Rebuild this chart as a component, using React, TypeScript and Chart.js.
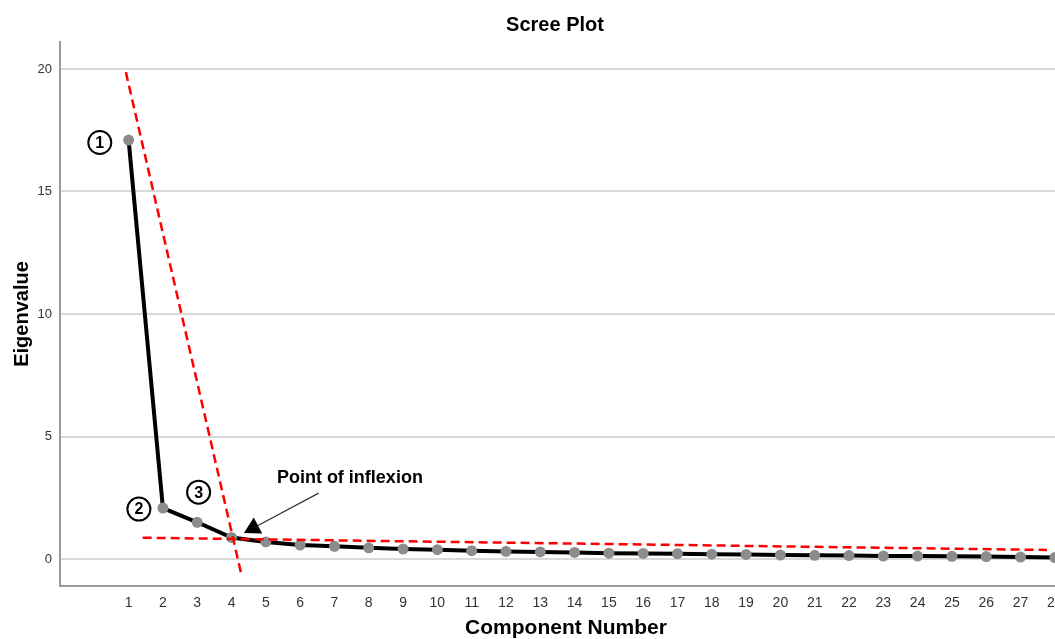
import React, { useEffect, useRef } from "react";
import { Chart, registerables } from "chart.js";

Chart.register(...registerables);

const components = [1, 2, 3, 4, 5, 6, 7, 8, 9, 10, 11, 12, 13, 14, 15, 16, 17, 18, 19, 20, 21, 22, 23, 24, 25, 26, 27, 28];
const eigenvalues = [17.1, 2.08, 1.5, 0.88, 0.7, 0.57, 0.52, 0.46, 0.41, 0.38, 0.34, 0.31, 0.29, 0.27, 0.24, 0.23, 0.22, 0.2, 0.19, 0.16, 0.15, 0.14, 0.12, 0.12, 0.11, 0.1, 0.08, 0.06];

// red dashed guide lines (data coordinates)
const steepLineX = [0.92, 4.29];
const steepLineY = [19.87, -0.65];
const flatLineX = [1.41, 27.77];
const flatLineY = [0.87, 0.37];

// circled labels: text, x, y (data coordinates)
const circleLabels = ["1", "2", "3"];
const circleX = [0.16, 1.3, 3.04];
const circleY = [17.0, 2.04, 2.73];

const inflexionText = "Point of inflexion";
const inflexionTextPos = [7.45, 3.3];
const arrowFrom = [6.54, 2.69];
const arrowTo = [4.36, 1.06];

const yTicks = [0, 5, 10, 15, 20];

const chartTitle = "Scree Plot";
const xTitle = "Component Number";
const yTitle = "Eigenvalue";

const FONT = "'Liberation Sans', Arial, sans-serif";

const annotationPlugin = {
  id: "screeAnnotations",
  afterDatasetsDraw(chart: any) {
    const { ctx, scales } = chart;
    const xs = scales.x;
    const ys = scales.y;
    ctx.save();
    // circled numbers
    for (let i = 0; i < circleLabels.length; i++) {
      const px = xs.getPixelForValue(circleX[i]);
      const py = ys.getPixelForValue(circleY[i]);
      ctx.beginPath();
      ctx.ellipse(px, py, 11.5, 11.5, 0, 0, Math.PI * 2);
      ctx.fillStyle = "#ffffff";
      ctx.fill();
      ctx.lineWidth = 2;
      ctx.strokeStyle = "#000000";
      ctx.stroke();
      ctx.fillStyle = "#000000";
      ctx.font = `bold 16px ${FONT}`;
      ctx.textAlign = "center";
      ctx.textBaseline = "middle";
      ctx.fillText(circleLabels[i], px, py + 1);
    }
    // inflexion text
    ctx.font = `bold 18px ${FONT}`;
    ctx.textAlign = "center";
    ctx.textBaseline = "middle";
    ctx.fillStyle = "#000000";
    ctx.fillText(inflexionText, xs.getPixelForValue(inflexionTextPos[0]), ys.getPixelForValue(inflexionTextPos[1]));
    // arrow
    const x1 = xs.getPixelForValue(arrowFrom[0]);
    const y1 = ys.getPixelForValue(arrowFrom[1]);
    const x2 = xs.getPixelForValue(arrowTo[0]);
    const y2 = ys.getPixelForValue(arrowTo[1]);
    const ang = Math.atan2(y2 - y1, x2 - x1);
    const headLen = 16;
    const headW = 9;
    const bx = x2 - headLen * Math.cos(ang);
    const by = y2 - headLen * Math.sin(ang);
    ctx.beginPath();
    ctx.moveTo(x1, y1);
    ctx.lineTo(bx, by);
    ctx.lineWidth = 1.2;
    ctx.strokeStyle = "#333333";
    ctx.stroke();
    ctx.beginPath();
    ctx.moveTo(x2, y2);
    ctx.lineTo(bx + headW * Math.sin(ang), by - headW * Math.cos(ang));
    ctx.lineTo(bx - headW * Math.sin(ang), by + headW * Math.cos(ang));
    ctx.closePath();
    ctx.fillStyle = "#000000";
    ctx.fill();
    // title
    ctx.font = `bold 20px ${FONT}`;
    ctx.textAlign = "center";
    ctx.textBaseline = "middle";
    ctx.fillStyle = "#000000";
    ctx.fillText(chartTitle, 555, 25);
    ctx.restore();
  },
};

export default function App() {
  const ref = useRef<HTMLCanvasElement | null>(null);

  useEffect(() => {
    if (!ref.current) return;
    const chart = new Chart(ref.current, {
      type: "line",
      data: {
        datasets: [
          {
            data: steepLineX.map((x, i) => ({ x, y: steepLineY[i] })),
            borderColor: "#ff0000",
            borderWidth: 2.5,
            borderDash: [9, 5],
            pointRadius: 0,
            fill: false,
          },
          {
            data: flatLineX.map((x, i) => ({ x, y: flatLineY[i] })),
            borderColor: "#ff0000",
            borderWidth: 2.5,
            borderDash: [9, 5],
            pointRadius: 0,
            fill: false,
          },
          {
            data: components.map((c, i) => ({ x: c, y: eigenvalues[i] })),
            borderColor: "#000000",
            borderWidth: 4,
            pointRadius: 5.5,
            pointBackgroundColor: "#8c8c8c",
            pointBorderColor: "#8c8c8c",
            pointBorderWidth: 0,
            fill: false,
            tension: 0,
          },
        ],
      },
      options: {
        animation: false,
        responsive: false,
        devicePixelRatio: 1,
        layout: { padding: { top: 42, left: 0, right: 8, bottom: 0 } },
        plugins: {
          legend: { display: false },
          tooltip: { enabled: false },
          title: { display: false },
        },
        scales: {
          x: {
            type: "linear",
            min: -1,
            max: 28.5,
            grid: { display: true, color: "rgba(0,0,0,0)", drawTicks: false },
            border: { display: true, color: "#9a9a9a", width: 2 },
            afterBuildTicks: (scale: any) => {
              scale.ticks = components.map((c) => ({ value: c }));
            },
            afterFit: (scale: any) => {
              scale.height = 53;
            },
            ticks: {
              autoSkip: false,
              maxRotation: 0,
              padding: 9,
              color: "#333333",
              font: { family: FONT, size: 14 },
            },
            title: {
              display: true,
              text: xTitle,
              color: "#000000",
              font: { family: FONT, size: 21, weight: "bold", lineHeight: 1 },
              padding: { top: 0, bottom: 0 },
            },
          },
          y: {
            type: "linear",
            min: -1.1,
            max: 21.1,
            afterBuildTicks: (scale: any) => {
              scale.ticks = yTicks.map((v) => ({ value: v }));
            },
            afterFit: (scale: any) => {
              scale.width = 60;
            },
            grid: { color: "#d9d9d9", lineWidth: 2, drawTicks: false },
            border: { display: true, color: "#9a9a9a", width: 2 },
            ticks: {
              padding: 8,
              color: "#333333",
              font: { family: FONT, size: 13 },
            },
            title: {
              display: true,
              text: yTitle,
              color: "#000000",
              font: { family: FONT, size: 20, weight: "bold", lineHeight: 1 },
              padding: { top: 12, bottom: 0 },
            },
          },
        },
      },
      plugins: [annotationPlugin],
    });
    return () => chart.destroy();
  }, []);

  return (
    <div style={{ position: "absolute", left: 0, top: 0, width: 1055, height: 639, overflow: "hidden", background: "#ffffff" }}>
      <canvas ref={ref} width={1080} height={639} style={{ display: "block", width: 1080, height: 639 }} />
    </div>
  );
}
